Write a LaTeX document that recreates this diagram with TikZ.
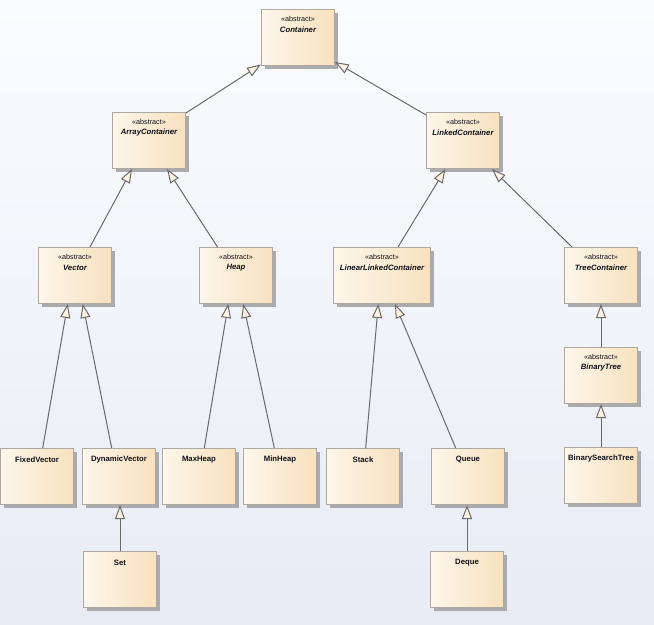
\documentclass[tikz,border=0pt]{standalone}
\usepackage{fontspec}
\setmainfont{Liberation Sans}
\usetikzlibrary{arrows.meta,shadows,calc}
\definecolor{bgtop}{HTML}{FBFCFE}
\definecolor{bgbot}{HTML}{E7EBF4}
\definecolor{boxL}{HTML}{FDF6EA}
\definecolor{boxR}{HTML}{F8E1BF}
\definecolor{boxborder}{HTML}{ADA8A2}
\definecolor{shadowc}{HTML}{ABABAE}
\definecolor{linec}{HTML}{6A6A6A}
\definecolor{arrowfill}{HTML}{FDF3E3}
\definecolor{txt}{HTML}{101018}
\newcommand\stfont{\fontsize{5.4pt}{6pt}\selectfont}
\newcommand\clfont{\fontsize{5.8pt}{7pt}\selectfont\bfseries}
\begin{document}
\begin{tikzpicture}[x=0.75pt,y=-0.75pt,
  cls/.style={draw=boxborder, line width=0.75pt, left color=boxL, right color=boxR,
    anchor=north west, minimum width=54.75pt, minimum height=42pt, inner sep=0pt,
    drop shadow={shadow xshift=2.25pt, shadow yshift=-2.25pt, fill=shadowc, opacity=1}},
  ctext/.style={anchor=center, inner sep=0pt, text=txt, font=\clfont},
  stext/.style={anchor=center, inner sep=0pt, text=txt, font=\stfont},
  atext/.style={anchor=center, inner sep=0pt, text=txt, font=\clfont\itshape},
  conc/.style={cls, label={[ctext, yshift=-8.6pt]north:#1}},
  absc/.style={cls, label={[stext, yshift=-7.5pt]north:«abstract»},
    label={[atext, yshift=-15.4pt]north:#1}},
  gen/.style={draw=linec, line width=0.75pt,
    -{Triangle[length=10.5pt, width=7.5pt, fill=arrowfill, line width=0.75pt]}}
]
\useasboundingbox (0,0) rectangle (654,625);
\shade[top color=bgtop, bottom color=bgbot] (0,0) rectangle (654,625);

% classes
\node[absc=Container] (container) at (261,9) {};
\node[absc=ArrayContainer] (arraycontainer) at (112,112) {};
\node[absc=LinkedContainer] (linkedcontainer) at (426,112) {};
\node[absc=Vector] (vector) at (38,247) {};
\node[absc=Heap] (heap) at (199,247) {};
\node[absc=LinearLinkedContainer, minimum width=72.75pt] (llc) at (333,247) {};
\node[absc=TreeContainer] (treecontainer) at (564,247) {};
\node[absc=BinaryTree] (binarytree) at (564,347) {};
\node[conc=FixedVector] (fixedvector) at (0,448) {};
\node[conc=DynamicVector] (dynamicvector) at (82,448) {};
\node[conc=MaxHeap] (maxheap) at (162,448) {};
\node[conc=MinHeap] (minheap) at (243,448) {};
\node[conc=Stack] (stack) at (326,448) {};
\node[conc=Queue] (queue) at (431,448) {};
\node[conc=BinarySearchTree] (bst) at (564,447) {};
\node[conc=Set] (set) at (83,551) {};
\node[conc=Deque] (deque) at (430,551) {};

% generalisations
\draw[gen] ($(arraycontainer.north east)+(0,1)$) -- ($(container.south west)+(0,-1.5)$);
\draw[gen] ($(linkedcontainer.north west)+(0,3)$) -- ($(container.south east)+(0,-4)$);
\draw[gen] ($(vector.north west)+(52,0)$) -- ($(arraycontainer.south west)+(20,0)$);
\draw[gen] ($(heap.north west)+(18.5,0)$) -- ($(arraycontainer.south west)+(55,0)$);
\draw[gen] ($(llc.north west)+(65,0)$) -- ($(linkedcontainer.south west)+(19.5,0)$);
\draw[gen] ($(treecontainer.north west)+(8,0)$) -- ($(linkedcontainer.south west)+(66,0)$);
\draw[gen] ($(fixedvector.north west)+(42.7,0)$) -- ($(vector.south west)+(29.7,0)$);
\draw[gen] ($(dynamicvector.north west)+(29.7,0)$) -- ($(vector.south west)+(44.7,0)$);
\draw[gen] ($(maxheap.north west)+(42.3,0)$) -- ($(heap.south west)+(29.3,0)$);
\draw[gen] ($(minheap.north west)+(31.3,0)$) -- ($(heap.south west)+(44.3,0)$);
\draw[gen] ($(stack.north west)+(39.7,0)$) -- ($(llc.south west)+(45.3,0)$);
\draw[gen] ($(queue.north west)+(24.7,0)$) -- ($(llc.south west)+(62,0)$);
\draw[gen] (binarytree.north) -- (treecontainer.south);
\draw[gen] (bst.north) -- (binarytree.south);
\draw[gen] (set.north) -- (set.north |- dynamicvector.south);
\draw[gen] (deque.north) -- (deque.north |- queue.south);
\end{tikzpicture}
\end{document}
